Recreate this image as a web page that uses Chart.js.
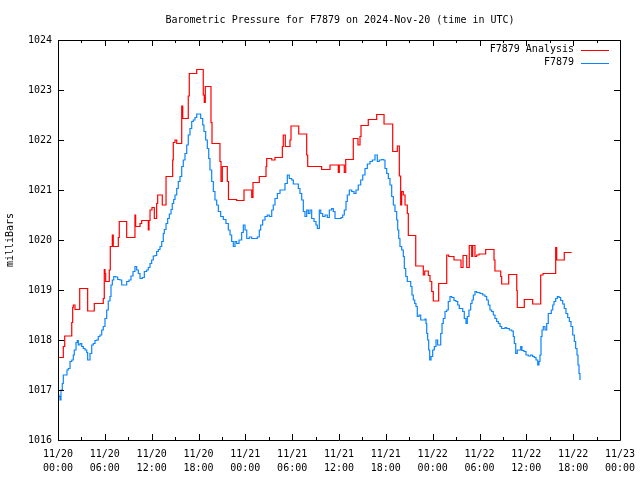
<!DOCTYPE html>
<html>
<head>
<meta charset="utf-8">
<script src="https://cdn.jsdelivr.net/npm/chart.js@4"></script>
<style>
html,body{margin:0;padding:0;background:#fff;}
canvas{display:block;}
</style>
</head>
<body>
<canvas id="c" width="640" height="480"></canvas>
<script>
// ---- data (hours since 11/20 00:00 UTC, pressure in milliBars) ----
const titleText = 'Barometric Pressure for F7879 on 2024-Nov-20 (time in UTC)';
const yAxisTitle = 'milliBars';
const seriesNames = ['F7879 Analysis', 'F7879'];
const xTickLabels = [
  ['11/20','00:00'],['11/20','06:00'],['11/20','12:00'],['11/20','18:00'],
  ['11/21','00:00'],['11/21','06:00'],['11/21','12:00'],['11/21','18:00'],
  ['11/22','00:00'],['11/22','06:00'],['11/22','12:00'],['11/22','18:00'],
  ['11/23','00:00']
];
const yTickValues = [1016,1017,1018,1019,1020,1021,1022,1023,1024];

const analysisHours = [0,0.68,0.86,1.76,1.88,1.96,2.18,2.78,3.80,4.65,5.80,5.93,6.02,6.11,6.57,6.70,6.96,7.08,7.73,7.85,8.80,9.86,9.95,10.51,10.72,11.57,11.66,11.79,12.04,12.34,12.64,12.77,13.36,13.84,14.69,14.77,14.99,15.21,15.85,15.98,16.69,16.82,17.77,18.61,18.74,18.87,19.60,19.73,20.75,20.88,21.05,21.69,21.84,22.89,23.83,24.82,24.98,25.79,26.65,26.74,27.38,27.80,28.74,28.86,29.12,29.72,29.85,30.84,31.86,31.99,33.78,34.85,35.91,36.04,36.68,36.86,37.83,38.43,38.69,38.82,39.75,40.83,41.77,42.88,43.47,43.73,43.90,44.03,44.24,44.46,44.75,44.88,45.83,46.80,46.98,47.44,47.66,47.88,48.08,48.77,49.80,50.05,50.73,51.63,51.89,52.36,52.69,53.00,53.13,53.42,53.64,53.94,54.79,55.86,55.98,56.72,56.84,57.74,58.77,58.84,59.74,60.81,61.84,62.14,63.76,63.89,64.86,65.81];
const analysisValues = [1017.65,1017.87,1018.08,1018.35,1018.65,1018.70,1018.61,1019.03,1018.58,1018.73,1018.83,1019.41,1019.33,1019.17,1019.40,1019.87,1020.10,1019.87,1020.05,1020.37,1020.05,1020.50,1020.27,1020.33,1020.39,1020.20,1020.39,1020.60,1020.65,1020.43,1020.73,1020.90,1020.70,1021.27,1021.60,1021.95,1022.00,1021.93,1022.68,1022.43,1022.88,1023.33,1023.41,1022.90,1022.75,1023.07,1022.35,1021.93,1021.57,1021.17,1021.47,1021.17,1020.81,1020.79,1021.00,1020.85,1021.15,1021.27,1021.47,1021.63,1021.60,1021.65,1021.87,1022.10,1021.87,1022.00,1022.28,1022.12,1021.70,1021.47,1021.41,1021.50,1021.35,1021.50,1021.35,1021.61,1022.03,1021.90,1022.07,1022.29,1022.41,1022.51,1022.32,1021.77,1021.88,1021.28,1020.70,1020.97,1020.90,1020.70,1020.53,1020.09,1019.48,1019.30,1019.38,1019.29,1019.17,1018.97,1018.78,1019.13,1019.70,1019.67,1019.60,1019.45,1019.69,1019.45,1019.89,1019.67,1019.89,1019.67,1019.70,1019.72,1019.81,1019.60,1019.38,1019.27,1019.12,1019.31,1018.99,1018.65,1018.81,1018.72,1019.30,1019.33,1019.85,1019.60,1019.75,1019.75];

const obsHours = [0.04,0.13,0.26,0.38,0.55,0.68,0.99,1.15,1.32,1.54,1.76,1.96,2.09,2.31,2.47,2.60,2.82,3.04,3.24,3.46,3.68,3.80,3.97,4.10,4.32,4.52,4.74,4.96,5.16,5.38,5.60,5.80,6.02,6.24,6.44,6.66,6.79,6.96,7.14,7.39,7.65,7.94,8.16,8.58,8.80,9.10,9.35,9.61,9.86,10.08,10.29,10.51,10.80,11.06,11.36,11.57,11.79,12.00,12.21,12.43,12.64,12.85,13.07,13.29,13.49,13.62,13.84,14.05,14.26,14.48,14.64,14.82,14.99,15.21,15.41,15.63,15.85,16.05,16.27,16.49,16.69,16.91,17.13,17.33,17.55,17.77,18.10,18.28,18.54,18.70,18.92,19.13,19.31,19.47,19.69,19.90,20.11,20.33,20.54,20.84,21.18,21.52,21.82,22.04,22.25,22.46,22.68,22.89,23.19,23.53,23.74,23.96,24.18,24.51,24.82,25.24,25.53,25.79,25.97,26.22,26.52,26.81,27.07,27.38,27.58,27.80,28.10,28.44,28.79,29.08,29.38,29.63,29.94,30.15,30.49,30.79,31.00,31.22,31.43,31.64,31.86,32.07,32.28,32.50,32.80,33.05,33.22,33.48,33.66,33.91,34.21,34.50,34.76,35.06,35.27,35.49,35.91,36.26,36.47,36.68,36.90,37.06,37.32,37.63,37.92,38.18,38.47,38.78,39.04,39.33,39.63,39.97,40.27,40.61,40.91,41.16,41.47,41.68,41.89,42.11,42.32,42.53,42.75,42.96,43.17,43.39,43.52,43.65,43.81,44.03,44.24,44.37,44.55,44.75,45.01,45.19,45.35,45.52,45.70,45.86,46.03,46.25,46.47,46.80,47.02,47.15,47.24,47.36,47.49,47.62,47.79,48.00,48.21,48.43,48.64,48.85,49.03,49.20,49.36,49.58,49.80,50.00,50.22,50.44,50.73,50.99,51.21,51.41,51.63,51.85,52.05,52.27,52.44,52.65,52.87,53.04,53.21,53.42,53.64,53.85,54.06,54.41,54.70,54.92,55.13,55.34,55.56,55.77,55.98,56.20,56.41,56.63,56.84,57.05,57.27,57.48,57.82,58.13,58.33,58.46,58.64,58.84,59.10,59.28,59.44,59.70,59.96,60.25,60.56,60.81,61.02,61.24,61.46,61.62,61.75,61.88,62.01,62.17,62.39,62.61,62.81,63.03,63.20,63.38,63.54,63.76,63.97,64.19,64.40,64.66,64.86,65.08,65.30,65.51,65.72,65.94,66.15,66.32,66.49,66.62,66.75,66.87];
const obsValues = [1016.90,1016.87,1016.80,1017.00,1017.13,1017.30,1017.30,1017.40,1017.43,1017.57,1017.60,1017.70,1017.80,1017.95,1017.99,1017.90,1017.93,1017.87,1017.83,1017.80,1017.75,1017.60,1017.60,1017.73,1017.90,1017.93,1017.99,1018.00,1018.07,1018.10,1018.20,1018.27,1018.43,1018.60,1018.78,1018.87,1019.10,1019.20,1019.27,1019.26,1019.21,1019.20,1019.10,1019.10,1019.17,1019.20,1019.28,1019.37,1019.47,1019.40,1019.33,1019.23,1019.25,1019.37,1019.40,1019.45,1019.53,1019.60,1019.68,1019.69,1019.77,1019.81,1019.87,1019.97,1020.13,1020.21,1020.33,1020.43,1020.52,1020.61,1020.73,1020.81,1020.90,1021.03,1021.17,1021.27,1021.47,1021.60,1021.73,1021.90,1022.10,1022.23,1022.37,1022.40,1022.45,1022.52,1022.52,1022.43,1022.30,1022.17,1022.00,1021.83,1021.63,1021.40,1021.17,1020.97,1020.80,1020.70,1020.57,1020.47,1020.41,1020.33,1020.20,1020.10,1019.97,1019.87,1019.97,1019.93,1020.00,1020.15,1020.30,1020.20,1020.03,1020.06,1020.03,1020.03,1020.06,1020.20,1020.30,1020.40,1020.47,1020.50,1020.47,1020.60,1020.70,1020.83,1020.93,1021.00,1021.00,1021.13,1021.30,1021.23,1021.20,1021.12,1021.12,1021.03,1020.93,1020.80,1020.57,1020.47,1020.60,1020.53,1020.60,1020.43,1020.37,1020.30,1020.23,1020.60,1020.53,1020.47,1020.50,1020.45,1020.60,1020.63,1020.57,1020.43,1020.43,1020.45,1020.50,1020.60,1020.77,1020.90,1021.00,1020.97,1020.93,1021.00,1021.10,1021.20,1021.30,1021.43,1021.52,1021.57,1021.60,1021.70,1021.57,1021.60,1021.61,1021.60,1021.43,1021.33,1021.23,1021.10,1020.87,1020.70,1020.57,1020.40,1020.20,1020.03,1019.87,1019.80,1019.67,1019.43,1019.27,1019.17,1019.17,1019.07,1018.90,1018.80,1018.73,1018.67,1018.47,1018.50,1018.40,1018.40,1018.42,1018.33,1018.13,1018.00,1017.80,1017.60,1017.67,1017.80,1017.87,1018.00,1017.90,1017.90,1018.13,1018.33,1018.43,1018.57,1018.60,1018.77,1018.87,1018.85,1018.79,1018.77,1018.70,1018.63,1018.63,1018.57,1018.43,1018.33,1018.47,1018.60,1018.73,1018.80,1018.90,1018.97,1018.95,1018.95,1018.93,1018.90,1018.87,1018.80,1018.70,1018.60,1018.57,1018.50,1018.43,1018.37,1018.33,1018.27,1018.23,1018.23,1018.25,1018.23,1018.20,1018.18,1018.07,1017.93,1017.73,1017.80,1017.80,1017.87,1017.79,1017.77,1017.70,1017.68,1017.70,1017.67,1017.65,1017.60,1017.50,1017.57,1017.70,1018.07,1018.20,1018.27,1018.20,1018.33,1018.53,1018.53,1018.60,1018.70,1018.77,1018.83,1018.87,1018.85,1018.79,1018.72,1018.63,1018.53,1018.45,1018.37,1018.27,1018.10,1017.97,1017.83,1017.70,1017.50,1017.33,1017.20];

const seriesColors = ['#ff0000', '#0a84ff'];
const FONT = 'DejaVu Sans Mono';

function pts(xs, ys) { return xs.map((x, i) => ({x: x, y: ys[i]})); }

const framePlugin = {
  id: 'frame',
  afterDraw(chart) {
    const ctx = chart.ctx;
    const a = chart.chartArea;
    const xs = chart.scales.x, ys = chart.scales.y;
    ctx.save();
    ctx.strokeStyle = '#000';
    ctx.lineWidth = 1;
    ctx.beginPath();
    ctx.rect(Math.round(a.left) + 0.5, Math.round(a.top) + 0.5, Math.round(a.right - a.left), Math.round(a.bottom - a.top));
    ctx.stroke();
    ctx.beginPath();
    for (let h = 0; h <= 72; h += 3) {
      const px = Math.round(xs.getPixelForValue(h)) + 0.5;
      const len = (h % 6 === 0) ? 6 : 3;
      ctx.moveTo(px, a.bottom); ctx.lineTo(px, a.bottom - len);
      ctx.moveTo(px, a.top); ctx.lineTo(px, a.top + len);
    }
    yTickValues.forEach(v => {
      const py = Math.round(ys.getPixelForValue(v)) + 0.5;
      ctx.moveTo(a.left, py); ctx.lineTo(a.left + 6, py);
      ctx.moveTo(a.right, py); ctx.lineTo(a.right - 6, py);
    });
    ctx.stroke();
    // title
    ctx.fillStyle = '#000';
    ctx.font = '10px "' + FONT + '"';
    ctx.textAlign = 'center';
    ctx.textBaseline = 'middle';
    ctx.fillText(titleText, 340, 20);
    // legend inside plot, top right
    ctx.textAlign = 'right';
    chart.data.datasets.forEach((ds, i) => {
      const y = a.top + 9.5 + i * 13;
      ctx.fillStyle = '#000';
      ctx.fillText(ds.label, a.right - 46, y);
      ctx.strokeStyle = ds.borderColor;
      ctx.beginPath();
      ctx.moveTo(a.right - 39, Math.round(y) + 0.5);
      ctx.lineTo(a.right - 11, Math.round(y) + 0.5);
      ctx.stroke();
    });
    ctx.restore();
  }
};

new Chart(document.getElementById('c'), {
  type: 'line',
  data: {
    datasets: [
      {label: seriesNames[0], data: pts(analysisHours, analysisValues), borderColor: seriesColors[0], borderWidth: 1.2, pointRadius: 0, stepped: true, fill: false},
      {label: seriesNames[1], data: pts(obsHours, obsValues), borderColor: seriesColors[1], borderWidth: 1.2, pointRadius: 0, stepped: true, fill: false}
    ]
  },
  options: {
    responsive: false,
    animation: false,
    devicePixelRatio: 1,
    layout: {padding: {top: 40, right: 20, left: 0, bottom: 0}},
    plugins: {legend: {display: false}, title: {display: false}, tooltip: {enabled: false}},
    scales: {
      x: {
        type: 'linear', min: 0, max: 72,
        afterBuildTicks: s => { s.ticks = xTickLabels.map((l, i) => ({value: i * 6})); },
        afterFit: s => { s.height = 40; s.paddingLeft = 0; s.paddingRight = 0; },
        grid: {display: false, drawTicks: false},
        border: {display: false},
        ticks: {
          autoSkip: false, maxRotation: 0, padding: 8,
          color: '#000', font: {family: FONT, size: 10, lineHeight: 1.35},
          callback: v => xTickLabels[Math.round(v / 6)]
        }
      },
      y: {
        min: 1016, max: 1024,
        afterBuildTicks: s => { s.ticks = yTickValues.map(v => ({value: v})); },
        afterFit: s => { s.width = 58; s.paddingTop = 0; s.paddingBottom = 0; },
        grid: {display: false, drawTicks: false},
        border: {display: false},
        title: {display: true, text: yAxisTitle, color: '#000', font: {family: FONT, size: 10}, padding: {top: 4, bottom: 0}},
        ticks: {color: '#000', padding: 6, font: {family: FONT, size: 10}, callback: v => String(v)}
      }
    }
  },
  plugins: [framePlugin]
});
</script>
</body>
</html>
